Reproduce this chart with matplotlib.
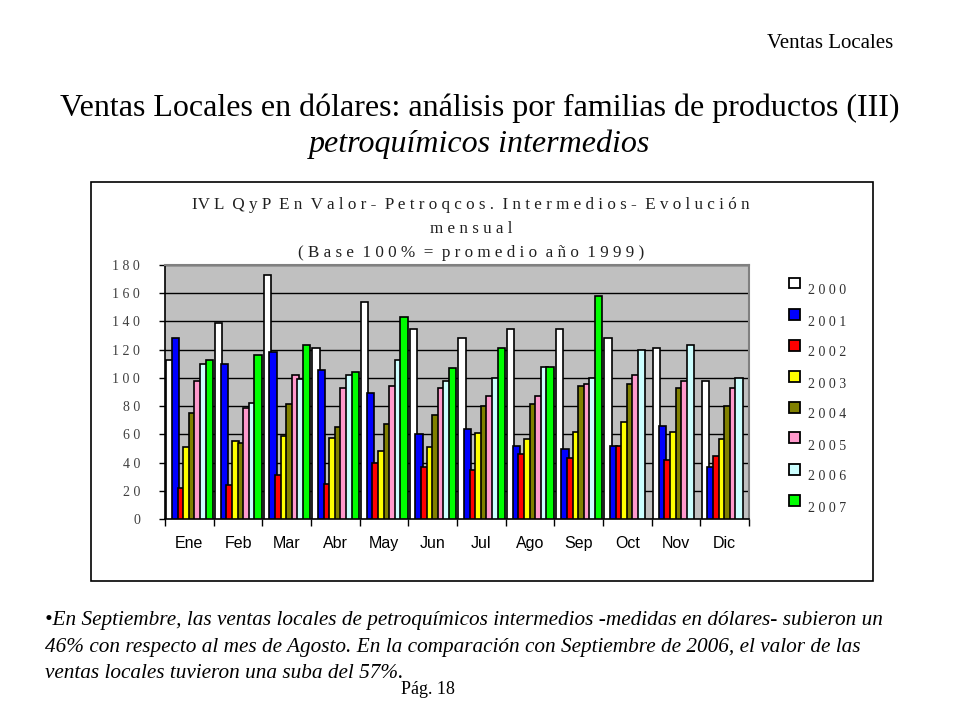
import matplotlib.pyplot as plt
import numpy as np
from matplotlib.patches import Rectangle

# Data (Base 100% = promedio 1999)
months = ['Ene', 'Feb', 'Mar', 'Abr', 'May', 'Jun', 'Jul', 'Ago', 'Sep', 'Oct', 'Nov', 'Dic']
years = ['2000', '2001', '2002', '2003', '2004', '2005', '2006', '2007']
v2000 = [113, 139, 173, 121.5, 153.5, 134.5, 128, 134.5, 134.5, 128, 121.5, 97.5]
v2001 = [128, 110, 118, 105.5, 89.5, 60.5, 63.5, 52, 49.5, 52, 66, 36.5]
v2002 = [22, 24, 31.5, 25, 39.5, 36.5, 35, 46, 43, 52, 41.5, 44.5]
v2003 = [51, 55.5, 59, 57.5, 48, 51, 61, 57, 62, 68.5, 62, 57]
v2004 = [75, 54, 81.5, 65.5, 67.5, 73.5, 80, 81.5, 94.5, 95.5, 93, 80]
v2005 = [97.5, 79, 102, 93, 94, 93, 87.5, 87.5, 95.5, 102, 97.5, 92.5]
v2006 = [110, 82.5, 99, 102, 113, 97.5, 100, 108, 100, 119.5, 123, 100]
v2007 = [113, 116.5, 123.5, 104, 143.5, 107, 121.5, 108, 158, None, None, None]
series = [v2000, v2001, v2002, v2003, v2004, v2005, v2006, v2007]
colors = ['#FFFFFF', '#0000FF', '#FF0000', '#FFFF00', '#808000', '#FF99CC', '#CCFFFF', '#00FF00']

def spaced(s):
    # letter-spaced look of the original chart font
    return ' '.join(w for w in s)

fig = plt.figure(figsize=(9.6, 7.2), dpi=100)
fig.patch.set_facecolor('white')
serif = 'Liberation Serif'

# page texts
fig.text(893 / 960, 1 - 44 / 720, 'Ventas Locales', ha='right', va='center',
         family=serif, fontsize=15)
fig.text(480 / 960, 1 - 108 / 720,
         'Ventas Locales en dólares: análisis por familias de productos (III)',
         ha='center', va='center', family=serif, fontsize=23)
fig.text(480 / 960, 1 - 144 / 720, 'petroquímicos intermedios', ha='center',
         va='center', family=serif, fontsize=23, style='italic')

# chart frame
fig.patches.append(Rectangle((91 / 960, 1 - 581 / 720), 782 / 960, 399 / 720,
                             transform=fig.transFigure, fill=False,
                             edgecolor='black', linewidth=1.2))

title_kw = dict(ha='center', va='center', family=serif, fontsize=12.3, color='#202020')
fig.text(471 / 960, 1 - 205 / 720,
         'IV L  Q y P  E n  V a l o r -  P e t r o q c o s .  I n t e r m e d i o s -  E v o l u c i ó n',
         **title_kw)
fig.text(471 / 960, 1 - 229 / 720, spaced('mensual'), **title_kw)
fig.text(471 / 960, 1 - 253 / 720,
         '( B a s e  1 0 0 %  =  p r o m e d i o  a ñ o  1 9 9 9 )', **title_kw)

ax = fig.add_axes([165 / 960, 1 - 519 / 720, 584 / 960, 254 / 720])
ax.set_facecolor('#C0C0C0')

x = np.arange(len(months))
width = 0.15
step = 0.115
start = -0.5 + 0.03 + width / 2
for i, (vals, col) in enumerate(zip(series, colors)):
    xs = [xx for xx, v in zip(x, vals) if v is not None]
    ys = [v for v in vals if v is not None]
    ax.bar(np.array(xs) + start + i * step, ys, width, color=col,
           edgecolor='black', linewidth=1.2, zorder=3)

ax.set_xlim(-0.5, len(months) - 0.5)
ax.set_ylim(0, 180)
ax.set_yticks(np.arange(0, 181, 20))
ax.set_yticklabels([spaced(str(t)) if t >= 20 else str(t) for t in range(0, 181, 20)],
                   family=serif, fontsize=10, color='#404040')
ax.yaxis.grid(True, color='black', linewidth=1.0, zorder=1)
ax.set_axisbelow(True)

ax.set_xticks(np.arange(-0.5, len(months), 1))
ax.set_xticklabels([])
ax.set_xticks(x, minor=True)
ax.set_xticklabels(months, minor=True, family='Liberation Sans', fontsize=11.5)
ax.tick_params(axis='x', which='minor', length=0, pad=12)
ax.tick_params(axis='x', which='major', length=5, width=1, direction='out')
ax.tick_params(axis='y', length=4, width=1, direction='out', pad=14)

for side in ['top', 'right']:
    ax.spines[side].set_color('#808080')
    ax.spines[side].set_linewidth(1.5)
for side in ['left', 'bottom']:
    ax.spines[side].set_color('black')
    ax.spines[side].set_linewidth(1.2)

# legend
for i, (yr, col) in enumerate(zip(years, colors)):
    yc = 1 - (283 + i * 31) / 720
    fig.patches.append(Rectangle((789 / 960, yc - 5.5 / 720), 11 / 960, 11 / 720,
                                 transform=fig.transFigure, facecolor=col,
                                 edgecolor='black', linewidth=1.3))
    fig.text(808 / 960, yc - 8 / 720, spaced(yr), ha='left', va='center',
             family=serif, fontsize=10, color='#303030')

# bottom note
note = ('•En Septiembre, las ventas locales de petroquímicos intermedios -medidas en dólares- subieron un\n'
        '46% con respecto al mes de Agosto. En la comparación con Septiembre de 2006, el valor de las\n'
        'ventas locales tuvieron una suba del 57%.')
fig.text(45 / 960, 1 - 611 / 720, note, ha='left', va='top', family=serif,
         fontsize=15.3, style='italic', linespacing=1.55)
fig.text(428 / 960, 1 - 690 / 720, 'Pág. 18', ha='center', va='center',
         family=serif, fontsize=13)

fig.savefig('out.png', dpi=100)
